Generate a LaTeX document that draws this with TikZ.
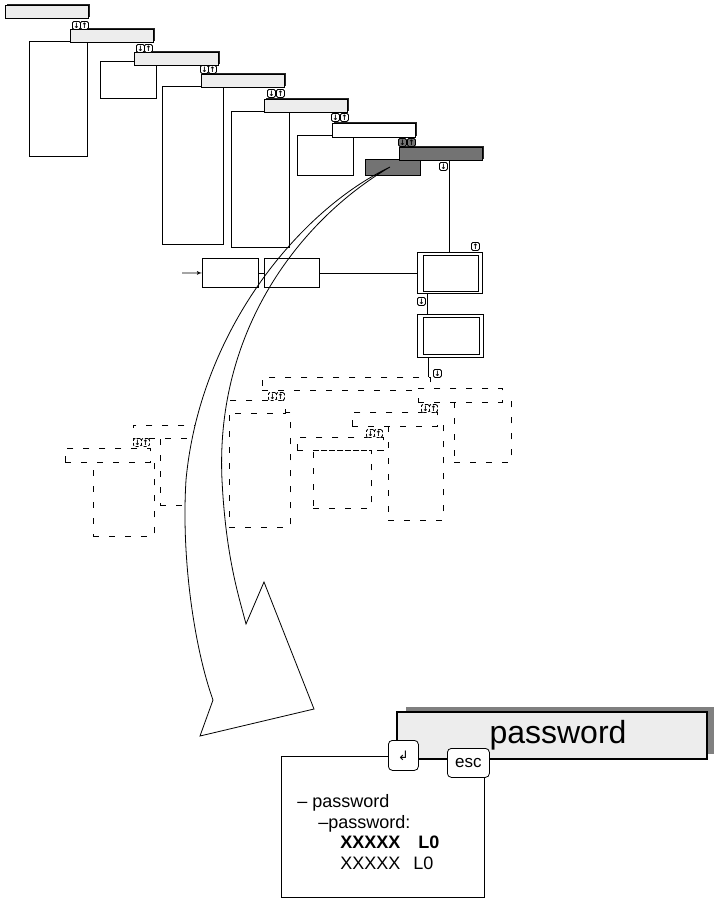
\documentclass[tikz,border=0pt]{standalone}
\usepackage{fontspec}
\setmainfont{Liberation Sans}
\newfontfamily\arrowfont{DejaVu Sans}
\usetikzlibrary{arrows,shadows}
\tikzstyle{bar} = [rectangle, draw, fill=black!7, inner sep=0pt, anchor=north west,
drop shadow={shadow xshift=1.5pt, shadow yshift=1.5pt, fill=black!85, opacity=1}]
\tikzstyle{box} = [rectangle, draw, fill=white, inner sep=0pt, anchor=north west]
\tikzstyle{key} = [rectangle, draw, fill=white, rounded corners=1.5pt, minimum size=8pt,
inner sep=0pt, anchor=north west, font=\arrowfont\bfseries\fontsize{7.5}{7.5}\selectfont]
\tikzstyle{ghost} = [rectangle, draw, dash pattern=on 6pt off 10pt, fill=white, inner sep=0pt, anchor=north west]
\tikzstyle{ghostkey} = [key, densely dashed]
\tikzstyle{line} = [draw]
\tikzstyle{softkey} = [rectangle, draw, fill=white, rounded corners=4pt, inner sep=0pt, anchor=north west]
\tikzstyle{title} = [rectangle, draw, line width=2pt, fill=black!7, inner sep=0pt, anchor=north west,
font=\fontsize{32}{32}\selectfont,
drop shadow={shadow xshift=8.5pt, shadow yshift=5.5pt, fill=black!50, opacity=1}]
\tikzstyle{menutext} = [anchor=base west, inner sep=0pt, font=\fontsize{18}{18}\selectfont]
\tikzset{wh/.style 2 args={minimum width=#1pt, minimum height=#2pt}}
\def\bigarrow{(390,167) .. controls (300,210) and (200,330) .. (186,480)
  .. controls (181,560) and (195,650) .. (213,700) -- (200,736) -- (314,709)
  -- (264,582) -- (246,624) .. controls (240,600) and (226,560) .. (222,480)
  .. controls (215,330) and (300,220) .. (390,167) -- cycle}

\begin{document}
\begin{tikzpicture}[x=1pt, y=-1pt, line width=0.8pt]
\useasboundingbox (0,0) rectangle (714,900);

% dashed copy of the menu tree
\node[ghost, wh={57}{61}] (gbox2) at (454,401) {};
\node[ghost, wh={55}{96}] (gbox3) at (388,424) {};
\node[ghost, wh={58}{58}] (gbox4) at (313,450) {};
\node[ghost, wh={61}{115}] (gbox5) at (229,412) {};
\node[ghost, wh={52}{69}] (gbox6) at (160,436) {};
\node[ghost, wh={61}{76}] (gbox7) at (93,460) {};
\node[ghost, wh={168}{13}] (g1) at (262,377) {};
\node[ghost, wh={84}{14}] (g2) at (418,388) {};
\node[ghost, wh={85}{14}] (g3) at (352,412) {};
\node[ghost, wh={86}{13}] (g4) at (297,437) {};
\node[ghost, wh={82}{13}] (g5) at (203,400) {};
\node[ghost, wh={83}{13}] (g6) at (133,425) {};
\node[ghost, wh={85}{14}] (g7) at (65,448) {};
\node[ghostkey] (gk1d) at (268,392) {↓};
\node[ghostkey] (gk1u) at (276,392) {↑};
\node[ghostkey] (gk2d) at (421,404) {↓};
\node[ghostkey] (gk2u) at (429,404) {↑};
\node[ghostkey] (gk3d) at (366,429) {↓};
\node[ghostkey] (gk3u) at (374,429) {↑};
\node[ghostkey] (gk4d) at (133,438) {↓};
\node[ghostkey] (gk4u) at (141,438) {↑};

\fill[white] \bigarrow;

% menu tree
\node[box, wh={58}{115}] (pA) at (29,41) {};
\node[box, wh={56}{37}] (pB) at (100,61) {};
\node[box, wh={61}{158}] (pC) at (162,86) {};
\node[box, wh={58}{136}] (pD) at (231,111) {};
\node[box, wh={56}{40}] (pE) at (297,135) {};
\node[box, wh={55}{16}, fill=black!55] (pF) at (365,159) {};
\node[bar, wh={83}{13}] (b1) at (5,5) {};
\node[bar, wh={83}{13}] (b2) at (70,29) {};
\node[bar, wh={84}{13}] (b3) at (134,52) {};
\node[bar, wh={83}{13}] (b4) at (201,74) {};
\node[bar, wh={83}{13}] (b5) at (264,99) {};
\node[bar, wh={83}{14}, fill=white] (b6) at (332,123) {};
\node[bar, wh={83}{13}, fill=black!55] (b7) at (399,147) {};
\node[key] (k1d) at (72,21) {↓};
\node[key] (k1u) at (80,21) {↑};
\node[key] (k2d) at (136,44) {↓};
\node[key] (k2u) at (144,44) {↑};
\node[key] (k3d) at (200,65) {↓};
\node[key] (k3u) at (208,65) {↑};
\node[key] (k4d) at (267,89) {↓};
\node[key] (k4u) at (276,89) {↑};
\node[key] (k5d) at (331,113) {↓};
\node[key] (k5u) at (340,113) {↑};
\node[key, fill=black!55] (k6d) at (398,138) {↓};
\node[key, fill=black!55] (k6u) at (407,138) {↑};
\node[key] (k7d) at (439,162) {↓};

% signal path and screens
\node[box, wh={56}{29}] (G) at (202,258) {};
\node[box, wh={55}{29}] (H) at (264,258) {};
\node[box, wh={65}{41}] (w1) at (417,252) {};
\node[box, wh={66}{43}] (w2) at (417,314) {};
\draw ([shift={(6,3)}]w1.north west) rectangle ([shift={(-4,-2)}]w1.south east);
\draw ([shift={(6,3)}]w2.north west) rectangle ([shift={(-4,-3)}]w2.south east);
\node[key] (kw1) at (471,242) {↑};
\node[key] (kw2) at (417,297) {↓};
\node[key] (kw3) at (433,369) {↓};
\coordinate (src) at (182,273);
\path [line, -latex'] (src) -- (G);
\path [line] (G) -- (H);
\path [line] (H) -- (w1);
\path [line] ([xshift=32pt]w1.north west) -- ([xshift=32pt]w1.north west |- b7.south);
\path [line] ([xshift=10pt]w1.south west) -- ([xshift=10pt]w2.north west);
\path [line] ([xshift=11pt]w2.south west) -- ([xshift=11pt]w2.south west |- g1.north);

\draw \bigarrow;

% zoomed menu
\node[box, wh={203}{141}] (menu) at (281,756) {};
\node[title, wh={310}{47}] (pw) at (396,711) {\hspace{12pt}password};
\node[softkey, wh={30}{30}, font=\arrowfont\fontsize{13}{13}\selectfont] (enter) at (388,740) {↲};
\node[softkey, wh={42}{29}, font=\fontsize{17}{17}\selectfont] (esc) at (447,748) {esc};
\node[menutext] (t1) at (297,807) {– password};
\node[menutext] (t2) at (318,828) {–password:};
\node[menutext] (t3) at (340,848) {\textbf{XXXXX}\hspace{18pt}\textbf{L0}};
\node[menutext] (t4) at (340,869) {XXXXX\hspace{13pt}L0};
\end{tikzpicture}
\end{document}
